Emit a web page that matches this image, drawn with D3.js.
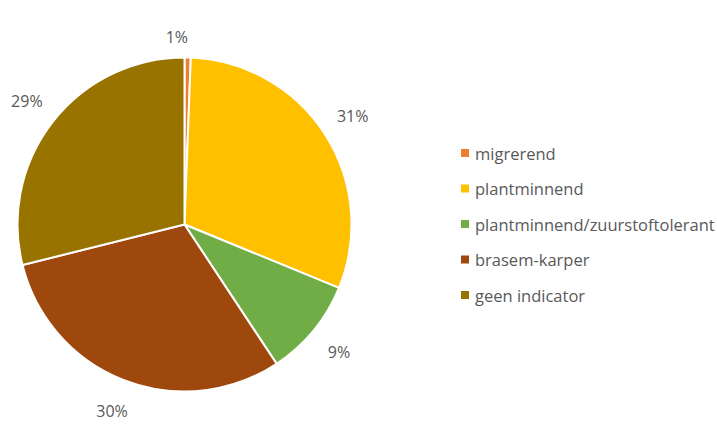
<!DOCTYPE html>
<html>
<head>
<meta charset="utf-8">
<script src="https://cdn.jsdelivr.net/npm/d3@7"></script>
<style>
  body { margin: 0; background: #fff; }
  text { font-family: "Open Sans", "DejaVu Sans", sans-serif; fill: #595959; }
</style>
</head>
<body>
<div id="chart"></div>
<script>
// chart data
const CATEGORIES = ["migrerend", "plantminnend", "plantminnend/zuurstoftolerant", "brasem-karper", "geen indicator"];
const VALUES = [0.6, 30.6, 9.5, 30.4, 28.9];
const LABELS = ["1%", "31%", "9%", "30%", "29%"];
const COLORS = ["#ED7D31", "#FFC000", "#70AD47", "#9E480E", "#997300"];

// frame
const FRAME_WIDTH = 717;
const FRAME_HEIGHT = 427;
const CENTER = {x: 184.5, y: 224.5};
const RADIUS = 167;

const svg = d3.select("#chart")
  .append("svg")
    .attr("width", FRAME_WIDTH)
    .attr("height", FRAME_HEIGHT);

const data = CATEGORIES.map((c, i) => ({name: c, value: VALUES[i], label: LABELS[i], color: COLORS[i]}));

const pie = d3.pie().sort(null).value(d => d.value);
const arc = d3.arc().innerRadius(0).outerRadius(RADIUS);
const labelArc = d3.arc().innerRadius(200).outerRadius(200);
const smallArc = d3.arc().innerRadius(188).outerRadius(188);

// tiny slices get their label pulled in and set to the left (like excel best fit)
function isTiny(d) { return (d.endAngle - d.startAngle) < 0.1; }

const g = svg.append("g").attr("transform", "translate(" + CENTER.x + "," + CENTER.y + ")");

g.selectAll("path")
  .data(pie(data))
  .enter()
  .append("path")
    .attr("d", arc)
    .attr("fill", d => d.data.color)
    .attr("stroke", "#fff")
    .attr("stroke-width", 2);

g.selectAll(".lbl")
  .data(pie(data))
  .enter()
  .append("text")
    .attr("class", "lbl")
    .attr("transform", d => "translate(" + (isTiny(d) ? smallArc : labelArc).centroid(d) + ")")
    .attr("text-anchor", d => isTiny(d) ? "end" : "middle")
    .attr("dominant-baseline", "central")
    .style("font-size", "16px")
    .text(d => d.data.label);

// legend
const legend = svg.append("g").attr("transform", "translate(461,153)");
const rows = legend.selectAll("g")
  .data(data)
  .enter()
  .append("g")
    .attr("transform", (d, i) => "translate(0," + (i * 35.5) + ")");

rows.append("rect")
  .attr("x", 0).attr("y", -4)
  .attr("width", 8).attr("height", 8)
  .attr("fill", d => d.color);

rows.append("text")
  .attr("x", 14)
  .attr("dominant-baseline", "central")
  .style("font-size", "16.5px")
  .text(d => d.name);
</script>
</body>
</html>
